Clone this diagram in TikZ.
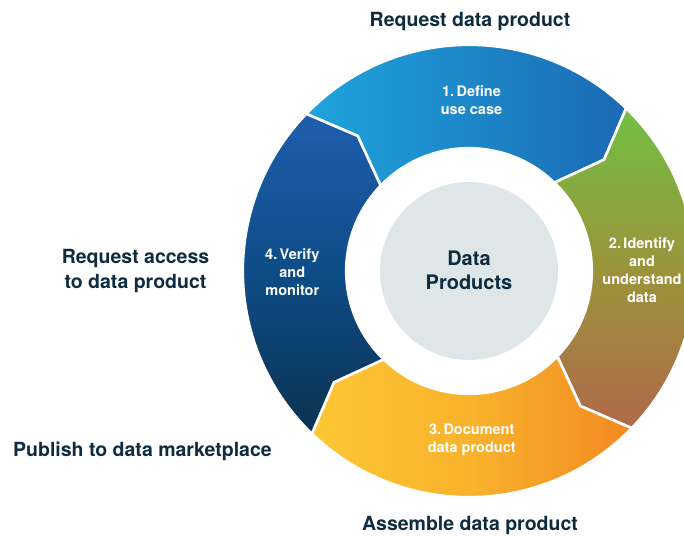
\documentclass[tikz,border=0pt]{standalone}
\usepackage{fontspec}
\setmainfont{TeX Gyre Heros}
\definecolor{navy}{HTML}{0E2C40}
\definecolor{hubgray}{HTML}{DFE6E8}
\definecolor{defA}{HTML}{1FA4DD}
\definecolor{defB}{HTML}{1B6AB4}
\definecolor{idA}{HTML}{72BF44}
\definecolor{idB}{HTML}{9A943A}
\definecolor{idC}{HTML}{B0694A}
\definecolor{docA}{HTML}{FDC733}
\definecolor{docB}{HTML}{F8B22C}
\definecolor{docC}{HTML}{F38A21}
\definecolor{verA}{HTML}{1E5EAD}
\definecolor{verB}{HTML}{0E4C86}
\definecolor{verC}{HTML}{0A3250}
\begin{document}
\begin{tikzpicture}[x=1pt,y=1pt,
  seg/.style={draw=white, line width=2.6pt, line join=miter},
  outer label/.style={font=\bfseries\fontsize{19.5}{25}\selectfont, text=navy, align=center, inner sep=0pt},
  ring label/.style={font=\bfseries\fontsize{14.5}{18}\selectfont, text=white, align=center, inner sep=0pt},
  hub label/.style={font=\bfseries\fontsize{20}{24}\selectfont, text=navy, align=center, inner sep=0pt}]
\useasboundingbox (0,0) rectangle (684,535);
\clip (0,0) rectangle (684,535);

% four arrow-shaped ring segments around the hub
\begin{scope}[shift={(469,264)}]
  % 1. Define use case
  \shadedraw[seg, left color=defA, right color=defB]
    (136:226.2) arc[start angle=136, end angle=46, radius=226.2]
    -- (39.5:175) -- (46:122.8) arc[start angle=46, end angle=136, radius=122.8]
    -- (129.5:175) -- cycle;
  % 2. Identify and understand data
  \shadedraw[seg, top color=idA, bottom color=idC, middle color=idB]
    (46:226.2) arc[start angle=46, end angle=-44, radius=226.2]
    -- (-50.5:175) -- (-44:122.8) arc[start angle=-44, end angle=46, radius=122.8]
    -- (39.5:175) -- cycle;
  % 3. Document data product
  \shadedraw[seg, left color=docA, right color=docC, middle color=docB]
    (-44:226.2) arc[start angle=-44, end angle=-134, radius=226.2]
    -- (-140.5:175) -- (-134:122.8) arc[start angle=-134, end angle=-44, radius=122.8]
    -- (-50.5:175) -- cycle;
  % 4. Verify and monitor
  \shadedraw[seg, top color=verA, bottom color=verC, middle color=verB]
    (-134:226.2) arc[start angle=-134, end angle=-224, radius=226.2]
    -- (129.5:175) -- (136:122.8) arc[start angle=136, end angle=226, radius=122.8]
    -- (-140.5:175) -- cycle;
  % central hub
  \fill[hubgray] (0,0) circle[radius=89];
\end{scope}

% texts on the ring (anchored at the baseline of their last line)
\node[hub label, anchor=base] (hub) at (469,245) {Data\\Products};
\node[ring label, anchor=base] (define) at (471.5,420) {1.\,Define\\use case};
\node[ring label, anchor=base] (identify) at (642,232.7) {2.\,Identify\\and\\understand\\data};
\node[ring label, anchor=base] (document) at (471.7,82.3) {3.\,Document\\data product};
\node[ring label, anchor=base] (verify) at (292.3,239.3) {4.\,Verify\\and\\monitor};

% texts around the ring
\node[outer label, anchor=base] (request) at (470,508) {Request data product};
\node[outer label, anchor=base] (access) at (135.5,246) {Request access\\to data product};
\node[outer label, anchor=base west] (publish) at (13,78.3) {Publish to data marketplace};
\node[outer label, anchor=base] (assemble) at (470,5) {Assemble data product};
\end{tikzpicture}
\end{document}
